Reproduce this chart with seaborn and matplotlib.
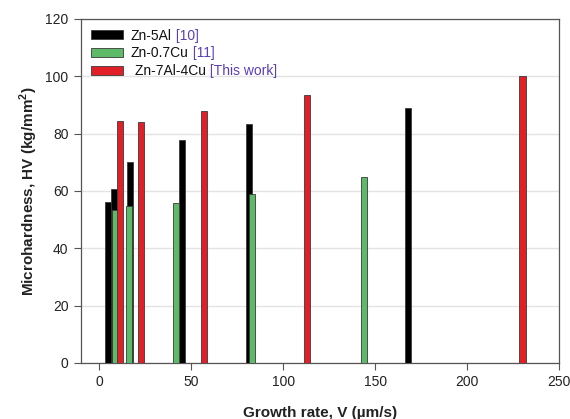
import numpy as np
import matplotlib
matplotlib.use("Agg")
import matplotlib.pyplot as plt
import seaborn as sns

# ---- data ----
v_zn5al = [5, 8, 16.5, 45, 81.5, 168]
hv_zn5al = [56, 60.7, 70, 77.7, 83.3, 89]
v_zn07cu = [8.5, 16, 41.5, 83, 144]
hv_zn07cu = [53.4, 54.6, 55.8, 59, 65]
v_zn7al4cu = [11.4, 22.6, 57, 113, 230]
hv_zn7al4cu = [84.3, 84, 88, 93.6, 100]

labels = ["Zn-5Al", "Zn-0.7Cu", " Zn-7Al-4Cu"]
refs = [" [10]", " [11]", " [This work]"]
colors = ["#000000", "#5dbb68", "#e01f27"]

sns.set_theme(style="white")
plt.rcParams["font.family"] = ["Liberation Sans", "DejaVu Sans"]
plt.rcParams["mathtext.fontset"] = "custom"
plt.rcParams["mathtext.rm"] = "Liberation Sans"
plt.rcParams["mathtext.bf"] = "Liberation Sans:bold"

fig = plt.figure(figsize=(5.7, 4.19), dpi=100)
ax = fig.add_axes([0.142, 0.134, 0.839, 0.821])

bar_w = 3.4  # bar width in data units
series = [(v_zn5al, hv_zn5al), (v_zn07cu, hv_zn07cu), (v_zn7al4cu, hv_zn7al4cu)]
for (xv, yv), lab, col in zip(series, labels, colors):
    native = np.diff(np.unique(xv)).min()
    sns.barplot(x=xv, y=yv, native_scale=True, width=bar_w / native,
                color=col, saturation=1, errorbar=None, label=lab,
                edgecolor="#3a3a3a", linewidth=0.6, ax=ax, zorder=3)

ax.set_xlim(-10, 250)
ax.set_ylim(0, 120)
ax.set_xticks(np.arange(0, 251, 50))
ax.set_yticks(np.arange(0, 121, 20))
ax.yaxis.grid(True, color="#e3e3e3", linewidth=1.0, zorder=0)
ax.xaxis.grid(False)
ax.set_axisbelow(True)

for s in ax.spines.values():
    s.set_color("#555555")
    s.set_linewidth(0.9)

ax.tick_params(axis="both", direction="out", length=5, width=0.8,
               color="#555555", labelsize=10, labelcolor="#222222",
               bottom=True, left=True, pad=4)

ax.set_xlabel("Growth rate, V (µm/s)", fontsize=11, fontweight="bold",
              labelpad=12, color="#222222")
ax.set_ylabel(r"Microhardness, HV (kg/mm$^{\mathbf{2}}$)", fontsize=11,
              fontweight="bold", labelpad=4, color="#222222")

leg = ax.legend(loc="upper left", bbox_to_anchor=(0.0, 1.0), frameon=False,
                fontsize=10, handlelength=2.3, handleheight=0.6,
                labelspacing=0.28, handletextpad=0.6, borderaxespad=0.3)
leg.set_zorder(5)
for txt, ref in zip(leg.get_texts(), refs):
    txt.set_color("#111111")
    ax.annotate(ref, xy=(1, 0), xycoords=txt, va="bottom", ha="left",
                fontsize=10, color="#5a3fb5", zorder=10)

fig.savefig("out.png", dpi=100)
